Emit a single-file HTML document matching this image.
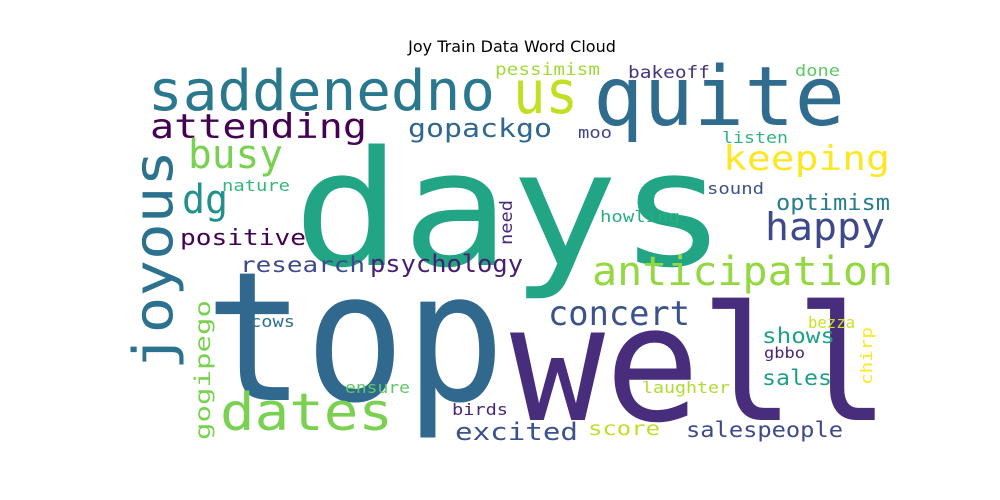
<!DOCTYPE html>
<html><head><meta charset="utf-8"><style>
html,body{margin:0;padding:0;background:#fff;width:1000px;height:500px;overflow:hidden}
svg text{font-family:"DejaVu Sans Mono","Liberation Mono",monospace}
</style></head><body>
<svg id="cloud" width="1000" height="500" xmlns="http://www.w3.org/2000/svg">
<rect width="1000" height="500" fill="#fff"/>
<text x="512" y="52" text-anchor="middle" font-size="16" style="font-family:'DejaVu Sans','Liberation Sans',sans-serif">Joy Train Data Word Cloud</text>
<g id="words"></g>
</svg>
<script>
const words=["top","well","days","quite","saddenedno","us","attending","busy","joyous","dg","gopackgo","keeping","pessimism","bakeoff","done","moo","listen","nature","sound","optimism","happy","positive","howling","need","research","psychology","anticipation","concert","gogipego","cows","shows","bezza","chirp","gbbo","sales","dates","ensure","laughter","birds","excited","score","salespeople"];
const sizes=[180,160,160,82,56,60,34,40,54,40,26,34,17,17,16,16,16,16,16,22,38,22,16,17,21,24,40,34,21,16,21,16,16,15,21,52,16,16,16,24,19,21];
const colors=["#31688e","#472d7b","#21a585","#2f6c8e","#2a788e","#c2df23","#440154","#7ad151","#2c728e","#21918c","#31688e","#fde725","#a0da39","#46327e","#5ec962","#414487","#2fb47c","#35b779","#3b528b","#287d8e","#3e4989","#440154","#29af7f","#482878","#3e4a89","#481f70","#93d741","#3b528b","#7ad151","#2c728e","#1fa187","#c8e020","#fde725","#482475","#1f9e89","#7ad151","#5ec962","#addc30","#482878","#3b528b","#bddf26","#3e4989"];
// layout: [x, baseline y, length, rotated]
const layout=[[205,400,300,0],[510,420,380,0],[293,265,434,0],[593,125,252,0],[148,110,347,0],[513,113,65,0],[150,138,217,0],[188,168,95,0],[172,370,220,1],[182,213,46,0],[408,137,144,0],[723,170,167,0],[495,75,105,0],[628,78,82,0],[795,76,45,0],[578,138,34,0],[722,143,66,0],[222,191,68,0],[707,194,57,0],[776,210,114,0],[765,240,120,0],[180,245,126,0],[600,222,80,0],[512,245,45,1],[240,272,125,0],[370,272,153,0],[592,285,301,0],[548,325,142,0],[210,440,140,1],[250,327,45,0],[762,343,73,0],[808,328,47,0],[872,385,58,1],[764,358,41,0],[762,385,70,0],[220,430,173,0],[345,393,65,0],[642,393,88,0],[452,415,56,0],[455,440,123,0],[588,435,72,0],[686,437,157,0]];
const g=document.getElementById('words');
const NS="http://www.w3.org/2000/svg";
for(let i=0;i<words.length;i++){
  const [x,y,len,rot]=layout[i];
  const t=document.createElementNS(NS,'text');
  
  
  t.setAttribute('x',x);t.setAttribute('y',y);
  t.setAttribute('font-size',sizes[i]);
  t.setAttribute('fill',colors[i]);
  t.setAttribute('textLength',len);
  t.setAttribute('lengthAdjust','spacingAndGlyphs');
  if(rot)t.setAttribute('transform','rotate(-90 '+x+' '+y+')');
  t.textContent=words[i];
  g.appendChild(t);
}
</script>
</body></html>
